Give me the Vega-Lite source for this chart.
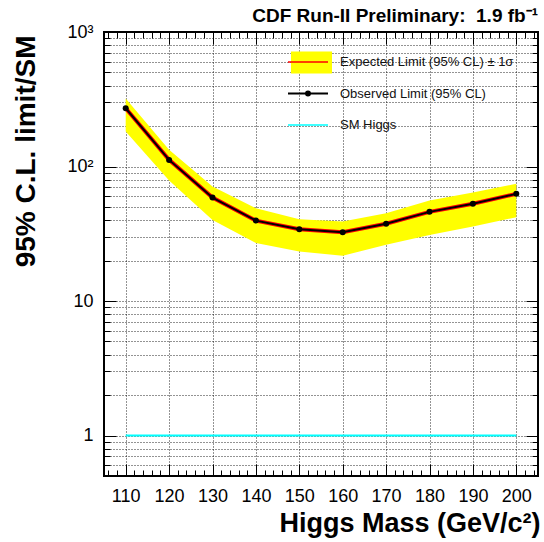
{
  "$schema": "https://vega.github.io/schema/vega-lite/v6.json",
  "width": 434,
  "height": 444,
  "autosize": "none",
  "padding": {"left": 104, "top": 32, "right": 6, "bottom": 66},
  "background": "white",
  "config": {
    "font": "Liberation Sans",
    "view": {"stroke": "#000", "strokeWidth": 2},
    "axis": {
      "domain": false,
      "tickColor": "#000",
      "tickWidth": 1,
      "gridColor": "#000",
      "gridOpacity": 0.85,
      "gridDash": [1, 2],
      "gridWidth": 1,
      "labelFont": "Liberation Sans",
      "labelColor": "#000",
      "labelFontSize": 18,
      "titleColor": "#000",
      "titleFont": "Liberation Sans"
    }
  },
  "title": {
    "text": "CDF Run-II Preliminary: \u00a01.9 fb⁻¹",
    "anchor": "end",
    "font": "Liberation Sans",
    "fontSize": 19,
    "fontWeight": "bold",
    "color": "#000",
    "baseline": "alphabetic",
    "offset": 8,
    "dx": -2,
    "dy": 26
  },
  "data": {
    "values": [
      {"mass": 110, "observed": 271, "expected": 271, "lo": 182, "hi": 321},
      {"mass": 120, "observed": 112, "expected": 112, "lo": 78.6, "hi": 133},
      {"mass": 130, "observed": 58.7, "expected": 58.7, "lo": 40.1, "hi": 71},
      {"mass": 140, "observed": 39.6, "expected": 39.6, "lo": 27, "hi": 49},
      {"mass": 150, "observed": 34.2, "expected": 34.2, "lo": 23.3, "hi": 40.6},
      {"mass": 160, "observed": 32.5, "expected": 32.5, "lo": 21.7, "hi": 39},
      {"mass": 170, "observed": 37.5, "expected": 37.5, "lo": 26.2, "hi": 45},
      {"mass": 180, "observed": 46, "expected": 46, "lo": 31, "hi": 55.8},
      {"mass": 190, "observed": 52.8, "expected": 52.8, "lo": 35.8, "hi": 64},
      {"mass": 200, "observed": 62.6, "expected": 62.6, "lo": 42, "hi": 74.3}
    ]
  },
  "layer": [
    {
      "mark": {"type": "area", "color": "#ffff00"},
      "encoding": {
        "x": {
          "field": "mass",
          "type": "quantitative",
          "scale": {"domain": [105, 205], "zero": false, "nice": false},
          "axis": {
            "orient": "bottom",
            "values": [110, 120, 130, 140, 150, 160, 170, 180, 190, 200],
            "tickSize": -12,
            "labelPadding": 23,
            "labelFlush": false,
            "grid": true,
            "title": "Higgs Mass (GeV/c²)",
            "titleFontSize": 27,
            "titleFontWeight": "bold",
            "titleAlign": "right",
            "titleAnchor": "end",
            "titleBaseline": "alphabetic",
            "titleX": 436,
            "titleY": 55
          }
        },
        "y": {
          "field": "lo",
          "type": "quantitative",
          "scale": {"type": "log", "domain": [0.5, 1000], "nice": false},
          "axis": {
            "orient": "left",
            "values": [1, 10, 100, 1000],
            "labelExpr": "datum.value >= 1000 ? '10³' : datum.value >= 100 ? '10²' : datum.label",
            "tickSize": -12,
            "labelPadding": 23,
            "labelFlush": false,
            "grid": true,
            "title": "95% C.L. limit/SM",
            "titleFontSize": 28,
            "titleFontWeight": "bold",
            "titleAngle": -90,
            "titleAlign": "right",
            "titleAnchor": "end",
            "titleBaseline": "alphabetic",
            "titleX": -70,
            "titleY": 3
          }
        },
        "y2": {"field": "hi"},
        "fill": {
          "datum": "Expected Limit (95% CL) ± 1σ",
          "scale": {"domain": ["Expected Limit (95% CL) ± 1σ"], "range": ["#ffff00"]},
          "legend": {
            "orient": "none",
            "legendX": 197.5,
            "legendY": 20.5,
            "title": null,
            "padding": 0,
            "symbolType": "M-2.05,-1.1H2.05V1.1H-2.05Z",
            "symbolSize": 400,
            "symbolStrokeWidth": 0,
            "symbolOpacity": 1,
            "labelExpr": "''",
            "labelOffset": 25.5,
            "zindex": 1
          }
        }
      }
    },
    {
      "mark": {"type": "line", "strokeWidth": 4},
      "encoding": {
        "x": {
          "field": "mass",
          "type": "quantitative",
          "axis": {
            "orient": "bottom",
            "values": [106, 108, 112, 114, 116, 118, 122, 124, 126, 128, 132, 134, 136, 138, 142, 144, 146, 148, 152, 154, 156, 158, 162, 164, 166, 168, 172, 174, 176, 178, 182, 184, 186, 188, 192, 194, 196, 198, 202, 204],
            "tickSize": -6,
            "labels": false,
            "grid": false,
            "title": null
          }
        },
        "y": {
          "field": "expected",
          "type": "quantitative",
          "axis": {
            "orient": "left",
            "values": [0.6, 0.7, 0.8, 0.9, 2, 3, 4, 5, 6, 7, 8, 9, 20, 30, 40, 50, 60, 70, 80, 90, 200, 300, 400, 500, 600, 700, 800, 900],
            "tickSize": -6,
            "labels": false,
            "grid": true,
            "title": null
          }
        },
        "stroke": {
          "datum": "Expected Limit (95% CL) ± 1σ",
          "scale": {
            "domain": ["Expected Limit (95% CL) ± 1σ", "Observed Limit (95% CL)", "SM Higgs"],
            "range": ["#ff0000", "#000000", "#00ffff"]
          },
          "legend": {
            "orient": "none",
            "legendX": 197.5,
            "legendY": 23.5,
            "title": null,
            "padding": 0,
            "symbolSize": 400,
            "symbolStrokeWidth": 2,
            "labelFont": "Liberation Sans",
            "labelFontSize": 13,
            "labelColor": "#111",
            "labelOffset": 25.5,
            "labelLimit": 400,
            "rowPadding": 17.5,
            "zindex": 2,
            "encode": {
              "symbols": {
                "update": {
                  "shape": {"signal": "datum.value === 'Observed Limit (95% CL)' ? 'M-2,0H2M0.2,0A0.2,0.2 0 1,1 -0.2,0A0.2,0.2 0 1,1 0.2,0' : 'M-2,0H2'"},
                  "fill": {"signal": "datum.value === 'Observed Limit (95% CL)' ? '#000' : 'transparent'"},
                  "strokeWidth": {"signal": "datum.value === 'Observed Limit (95% CL)' ? 2 : 1.5"}
                }
              }
            }
          }
        }
      }
    },
    {
      "mark": {"type": "line", "strokeWidth": 2},
      "encoding": {
        "x": {
          "field": "mass",
          "type": "quantitative",
          "axis": {
            "orient": "top",
            "values": [110, 120, 130, 140, 150, 160, 170, 180, 190, 200],
            "tickSize": -12,
            "labels": false,
            "grid": false,
            "title": null
          }
        },
        "y": {
          "field": "observed",
          "type": "quantitative",
          "axis": {
            "orient": "right",
            "values": [1, 10, 100, 1000],
            "tickSize": -12,
            "labels": false,
            "grid": false,
            "title": null
          }
        },
        "stroke": {"datum": "Observed Limit (95% CL)"}
      }
    },
    {
      "mark": {"type": "line", "strokeWidth": 2},
      "encoding": {
        "x": {"field": "mass", "type": "quantitative", "axis": null},
        "y": {"datum": 1, "type": "quantitative", "axis": null},
        "stroke": {"datum": "SM Higgs"}
      }
    },
    {
      "mark": {"type": "point", "filled": true, "color": "#000", "opacity": 1, "size": 36},
      "encoding": {
        "x": {
          "field": "mass",
          "type": "quantitative",
          "axis": {
            "orient": "top",
            "values": [106, 108, 112, 114, 116, 118, 122, 124, 126, 128, 132, 134, 136, 138, 142, 144, 146, 148, 152, 154, 156, 158, 162, 164, 166, 168, 172, 174, 176, 178, 182, 184, 186, 188, 192, 194, 196, 198, 202, 204],
            "tickSize": -6,
            "labels": false,
            "grid": false,
            "title": null
          }
        },
        "y": {
          "field": "observed",
          "type": "quantitative",
          "axis": {
            "orient": "right",
            "values": [0.6, 0.7, 0.8, 0.9, 2, 3, 4, 5, 6, 7, 8, 9, 20, 30, 40, 50, 60, 70, 80, 90, 200, 300, 400, 500, 600, 700, 800, 900],
            "tickSize": -6,
            "labels": false,
            "grid": false,
            "title": null
          }
        }
      }
    }
  ],
  "resolve": {"axis": {"x": "independent", "y": "independent"}}
}
